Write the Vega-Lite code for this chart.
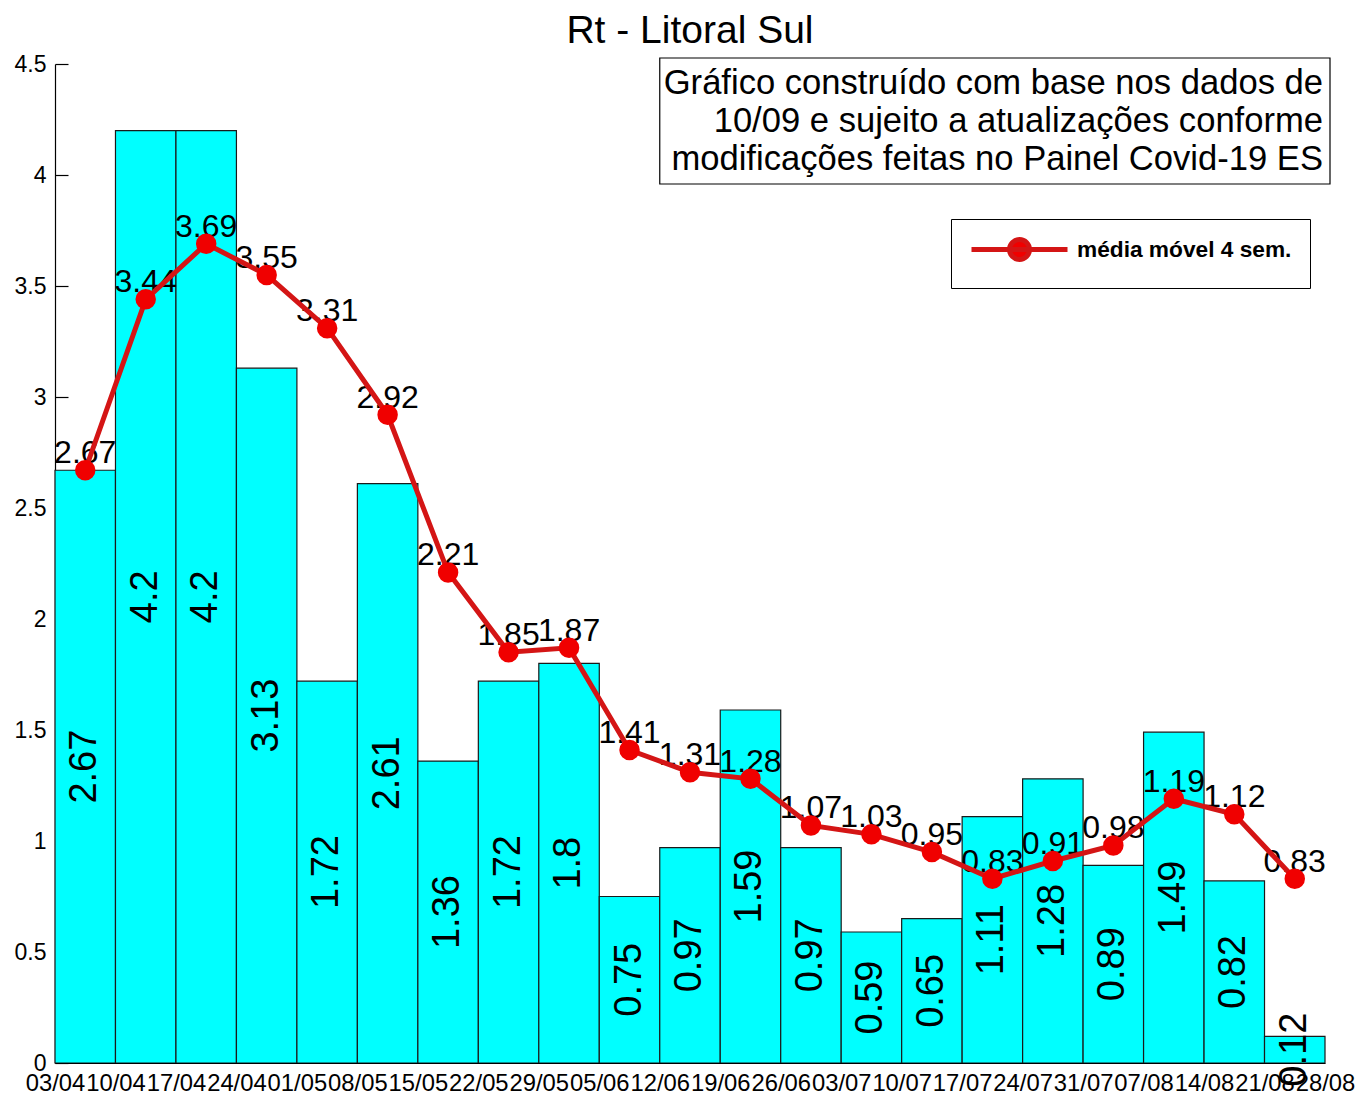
{
  "$schema": "https://vega.github.io/schema/vega-lite/v6.json",
  "width": 1270,
  "height": 999,
  "autosize": {"type": "none"},
  "padding": {"left": 55, "top": 64, "right": 35, "bottom": 36},
  "background": "white",
  "config": {
    "font": "Liberation Sans",
    "view": {"stroke": null},
    "axis": {"labelColor": "black", "domainColor": "black", "tickColor": "black", "grid": false, "labelFont": "Liberation Sans"}
  },
  "title": {"text": "Rt - Litoral Sul", "fontSize": 39, "fontWeight": "normal", "color": "black", "anchor": "middle", "offset": 3, "dy": 40, "baseline": "bottom", "font": "Liberation Sans"},
  "datasets": {
    "rt": [
      {"semana": "03/04", "rt": 2.67, "media": 2.67},
      {"semana": "10/04", "rt": 4.2, "media": 3.44},
      {"semana": "17/04", "rt": 4.2, "media": 3.69},
      {"semana": "24/04", "rt": 3.13, "media": 3.55},
      {"semana": "01/05", "rt": 1.72, "media": 3.31},
      {"semana": "08/05", "rt": 2.61, "media": 2.92},
      {"semana": "15/05", "rt": 1.36, "media": 2.21},
      {"semana": "22/05", "rt": 1.72, "media": 1.85},
      {"semana": "29/05", "rt": 1.8, "media": 1.87},
      {"semana": "05/06", "rt": 0.75, "media": 1.41},
      {"semana": "12/06", "rt": 0.97, "media": 1.31},
      {"semana": "19/06", "rt": 1.59, "media": 1.28},
      {"semana": "26/06", "rt": 0.97, "media": 1.07},
      {"semana": "03/07", "rt": 0.59, "media": 1.03},
      {"semana": "10/07", "rt": 0.65, "media": 0.95},
      {"semana": "17/07", "rt": 1.11, "media": 0.83},
      {"semana": "24/07", "rt": 1.28, "media": 0.91},
      {"semana": "31/07", "rt": 0.89, "media": 0.98},
      {"semana": "07/08", "rt": 1.49, "media": 1.19},
      {"semana": "14/08", "rt": 0.82, "media": 1.12},
      {"semana": "21/08", "rt": 0.12, "media": 0.83}
    ]
  },
  "data": {"name": "rt"},
  "resolve": {"scale": {"x": "independent", "y": "independent"}},
  "layer": [
    {
      "mark": {"type": "bar", "fill": "#00FFFF", "stroke": "#1A1A1A", "strokeWidth": 1.2},
      "encoding": {
        "x": {"field": "semana", "type": "nominal", "sort": null, "scale": {"type": "band", "paddingInner": 0, "paddingOuter": 0}, "axis": null},
        "y": {"field": "rt", "type": "quantitative", "scale": {"domain": [0, 4.5], "nice": false},
          "axis": {"orient": "left", "title": null, "values": [0, 0.5, 1, 1.5, 2, 2.5, 3, 3.5, 4, 4.5], "format": "~g", "labelFontSize": 23, "tickSize": -13, "labelPadding": 22, "domainWidth": 1.2, "tickWidth": 1.2}}
      }
    },
    {
      "mark": {"type": "text", "angle": 270, "fontSize": 38, "align": "center", "baseline": "middle", "color": "black"},
      "encoding": {
        "x": {"field": "semana", "type": "nominal", "sort": null, "axis": null},
        "y": {"field": "rt", "type": "quantitative", "scale": {"domain": [0, 9], "nice": false}, "axis": null},
        "text": {"field": "rt", "type": "quantitative", "format": "~g"}
      }
    },
    {
      "mark": {"type": "text", "fontSize": 32, "align": "center", "baseline": "bottom", "color": "black"},
      "encoding": {
        "x": {"field": "semana", "type": "nominal", "sort": null, "axis": null},
        "y": {"field": "media", "type": "quantitative", "scale": {"domain": [0, 4.5], "nice": false}, "axis": null},
        "text": {"field": "media", "type": "quantitative", "format": "~g"}
      }
    },
    {
      "mark": {"type": "line", "strokeWidth": 5},
      "encoding": {
        "x": {"field": "semana", "type": "nominal", "sort": null, "axis": null},
        "y": {"field": "media", "type": "quantitative", "scale": {"domain": [0, 4.5], "nice": false}, "axis": null},
        "color": {"datum": "média móvel 4 sem.", "scale": {"range": ["#D41515"]},
          "legend": {"title": null, "orient": "none", "legendX": 896, "legendY": 155, "padding": 18, "strokeColor": "black", "fillColor": "white",
            "labelFontSize": 22.7, "labelFontWeight": "bold", "labelColor": "black", "labelFont": "Liberation Sans", "labelOffset": 83, "labelLimit": 400,
            "symbolType": "M-1,0L8.6,0M4.8,0A1,1,0,1,1,2.8,0A1,1,0,1,1,4.8,0Z", "symbolSize": 400, "symbolStrokeWidth": 5,
            "symbolFillColor": "#F00000", "symbolStrokeColor": "#D41515",
            "encode": {"symbols": {"update": {"fill": {"value": "#F00000"}, "stroke": {"value": "#D41515"}, "strokeWidth": {"value": 5}, "opacity": {"value": 1}}}}}}
      }
    },
    {
      "mark": {"type": "point", "filled": true, "size": 420, "color": "#F00000", "opacity": 1},
      "encoding": {
        "x": {"field": "semana", "type": "nominal", "sort": null, "axis": null},
        "y": {"field": "media", "type": "quantitative", "scale": {"domain": [0, 4.5], "nice": false}, "axis": null}
      }
    },
    {
      "data": {"values": [{}]},
      "layer": [
        {
          "mark": {"type": "rect", "fill": "white", "stroke": "black", "strokeWidth": 1.2, "yOffset": -6, "y2Offset": 9, "x2Offset": 5},
          "encoding": {
            "x": {"datum": "12/06", "type": "ordinal",
              "scale": {"type": "point", "padding": 0, "domain": ["03/04", "10/04", "17/04", "24/04", "01/05", "08/05", "15/05", "22/05", "29/05", "05/06", "12/06", "19/06", "26/06", "03/07", "10/07", "17/07", "24/07", "31/07", "07/08", "14/08", "21/08", "28/08"]},
              "axis": {"orient": "bottom", "title": null, "labelFontSize": 23.8, "labelAngle": 0, "ticks": false, "labelPadding": 8, "labelOverlap": false, "domainWidth": 1.2}},
            "x2": {"datum": "28/08"},
            "y": {"datum": 4.5, "type": "quantitative", "scale": {"domain": [0, 4.5], "nice": false}, "axis": null},
            "y2": {"datum": 4}
          }
        },
        {
          "mark": {"type": "text", "text": ["Gráfico construído com base nos dados de", "10/09 e sujeito a atualizações conforme", "modificações feitas no Painel Covid-19 ES"],
            "align": "right", "baseline": "top", "fontSize": 34.6, "lineHeight": 38, "dx": -2, "dy": 3, "color": "black"},
          "encoding": {
            "x": {"datum": "28/08", "type": "ordinal"},
            "y": {"datum": 4.5, "type": "quantitative"}
          }
        }
      ]
    }
  ]
}
